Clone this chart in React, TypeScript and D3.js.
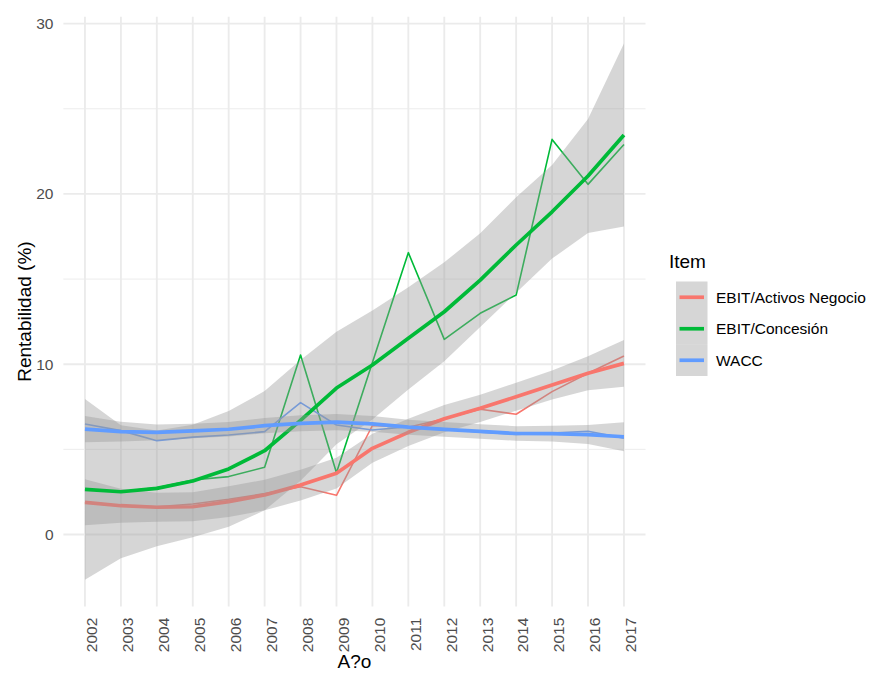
import React from "react";
import * as d3 from "d3";

const years = ["2002","2003","2004","2005","2006","2007","2008","2009","2010","2011","2012","2013","2014","2015","2016","2017"];

const seriesNames = ["EBIT/Activos Negocio", "EBIT/Concesión", "WACC"];
const seriesColors = ["#F8766D", "#00BA38", "#619CFF"];

const rawActivos = [1.9, 1.7, 1.62, 1.79, 2.07, 2.4, 2.8, 2.3, 6.4, 6.3, 6.8, 7.35, 7.06, 8.39, 9.47, 10.48];
const smoothActivos = [1.89, 1.69, 1.6, 1.63, 1.93, 2.32, 2.9, 3.6, 5.06, 6.0, 6.8, 7.41, 8.09, 8.78, 9.47, 10.05];
const seActivos = [1.35, 1.0, 0.85, 0.85, 0.9, 0.9, 0.9, 0.9, 0.85, 0.8, 0.8, 0.8, 0.82, 0.85, 1.0, 1.37];

const rawConcesion = [2.65, 2.51, 2.75, 3.2, 3.4, 3.95, 10.54, 3.63, 10.1, 16.55, 11.46, 12.99, 14.06, 23.2, 20.56, 22.9];
const smoothConcesion = [2.65, 2.51, 2.71, 3.14, 3.85, 4.92, 6.7, 8.6, 9.95, 11.52, 13.08, 14.94, 17.0, 18.95, 21.05, 23.46];
const seConcesion = [5.3, 3.9, 3.4, 3.3, 3.4, 3.5, 3.55, 3.3, 3.2, 3.0, 2.9, 2.75, 2.8, 2.75, 3.35, 5.37];

const rawWacc = [6.49, 6.1, 5.51, 5.72, 5.84, 6.04, 7.74, 6.43, 6.14, 6.33, 6.2, 6.0, 5.88, 5.96, 6.06, 5.66];
const smoothWacc = [6.19, 6.04, 6.0, 6.08, 6.18, 6.39, 6.53, 6.6, 6.5, 6.3, 6.17, 6.05, 5.93, 5.92, 5.87, 5.74];
const seWacc = [0.77, 0.58, 0.46, 0.43, 0.43, 0.45, 0.47, 0.48, 0.46, 0.44, 0.43, 0.43, 0.43, 0.46, 0.56, 0.85];

const yMajor = [0, 10, 20, 30];
const yMinor = [5, 15, 25];

const raws = [rawActivos, rawConcesion, rawWacc];
const smooths = [smoothActivos, smoothConcesion, smoothWacc];
const ses = [seActivos, seConcesion, seWacc];

const FONT = "'Liberation Sans', Arial, Helvetica, sans-serif";

export default function App() {
  const W = 875, H = 675;
  const left = 63.4, right = 645.5;

  // y extent with ggplot-like 5% expansion
  let lo = Infinity, hi = -Infinity;
  for (let s = 0; s < 3; s++) {
    for (let i = 0; i < years.length; i++) {
      lo = Math.min(lo, smooths[s][i] - ses[s][i], raws[s][i]);
      hi = Math.max(hi, smooths[s][i] + ses[s][i], raws[s][i]);
    }
  }
  const span = hi - lo;
  const yLo = lo - span * 0.05, yHi = hi + span * 0.05;
  const pxPerUnit = 17.03;
  const zeroPx = 534.5;
  const top = zeroPx - yHi * pxPerUnit;
  const bottom = zeroPx - yLo * pxPerUnit;

  const x = d3.scalePoint<string>().domain(years).range([left, right]).padding(0.6);
  const y = d3.scaleLinear().domain([yLo, yHi]).range([bottom, top]);

  const line = d3.line<number>().x((_, i) => x(years[i])!).y((d) => y(d));
  const area = (sm: number[], se: number[]) =>
    d3.area<number>()
      .x((_, i) => x(years[i])!)
      .y0((_, i) => y(sm[i] - se[i]))
      .y1((_, i) => y(sm[i] + se[i]))(sm) || "";

  const legendX = 676, legendY = 281.5, keyH = 31.5, keyW = 31.5;

  return (
    <svg width={W} height={H} style={{ position: "absolute", left: 0, top: 0, background: "#fff" }} fontFamily={FONT}>
      <rect x={0} y={0} width={W} height={H} fill="#ffffff" />
      {/* minor gridlines */}
      {yMinor.map((v) => (
        <line key={"mi" + v} x1={left} x2={right} y1={y(v)} y2={y(v)} stroke="#ebebeb" strokeWidth={0.95} />
      ))}
      {/* major gridlines */}
      {yMajor.map((v) => (
        <line key={"ma" + v} x1={left} x2={right} y1={y(v)} y2={y(v)} stroke="#ebebeb" strokeWidth={1.85} />
      ))}
      {years.map((yr) => (
        <line key={"vg" + yr} x1={x(yr)} x2={x(yr)} y1={top} y2={bottom} stroke="#ebebeb" strokeWidth={1.85} />
      ))}

      {/* raw lines */}
      {raws.map((r, s) => (
        <path key={"raw" + s} d={line(r) || ""} fill="none" stroke={seriesColors[s]} strokeWidth={1.6} strokeLinejoin="round" />
      ))}

      {/* smooth ribbons + lines, per group */}
      {smooths.map((sm, s) => (
        <g key={"sm" + s}>
          <path d={area(sm, ses[s])} fill="#999999" fillOpacity={0.4} stroke="none" />
          <path d={line(sm) || ""} fill="none" stroke={seriesColors[s]} strokeWidth={3.7} strokeLinejoin="round" />
        </g>
      ))}

      {/* y tick labels */}
      {yMajor.map((v) => (
        <text key={"yt" + v} x={53.5} y={y(v)} dy="0.35em" textAnchor="end" fontSize={15.5} fill="#4d4d4d">
          {v}
        </text>
      ))}
      {/* x tick labels */}
      {years.map((yr) => (
        <text
          key={"xt" + yr}
          transform={`translate(${x(yr)! + 12.3},${bottom + 11.3}) rotate(-90)`}
          textAnchor="end"
          fontSize={15.5}
          fill="#4d4d4d"
        >
          {yr}
        </text>
      ))}

      {/* axis titles */}
      <text x={(left + right) / 2} y={668} textAnchor="middle" fontSize={19} fill="#000">
        A?o
      </text>
      <text transform={`translate(31,${(top + bottom) / 2}) rotate(-90)`} textAnchor="middle" fontSize={19} fill="#000">
        Rentabilidad (%)
      </text>

      {/* legend */}
      <text x={669} y={268} fontSize={19} fill="#000">Item</text>
      {seriesNames.map((nm, i) => (
        <g key={"lg" + i}>
          <rect x={legendX} y={legendY + i * keyH} width={keyW} height={keyH} fill="#999999" fillOpacity={0.4} />
          <line
            x1={legendX + 3.5}
            x2={legendX + keyW - 3.5}
            y1={legendY + i * keyH + keyH / 2}
            y2={legendY + i * keyH + keyH / 2}
            stroke={seriesColors[i]}
            strokeWidth={3.7}
          />
          <text x={716} y={legendY + i * keyH + keyH / 2} dy="0.35em" fontSize={15.5} fill="#000">
            {nm}
          </text>
        </g>
      ))}
    </svg>
  );
}
